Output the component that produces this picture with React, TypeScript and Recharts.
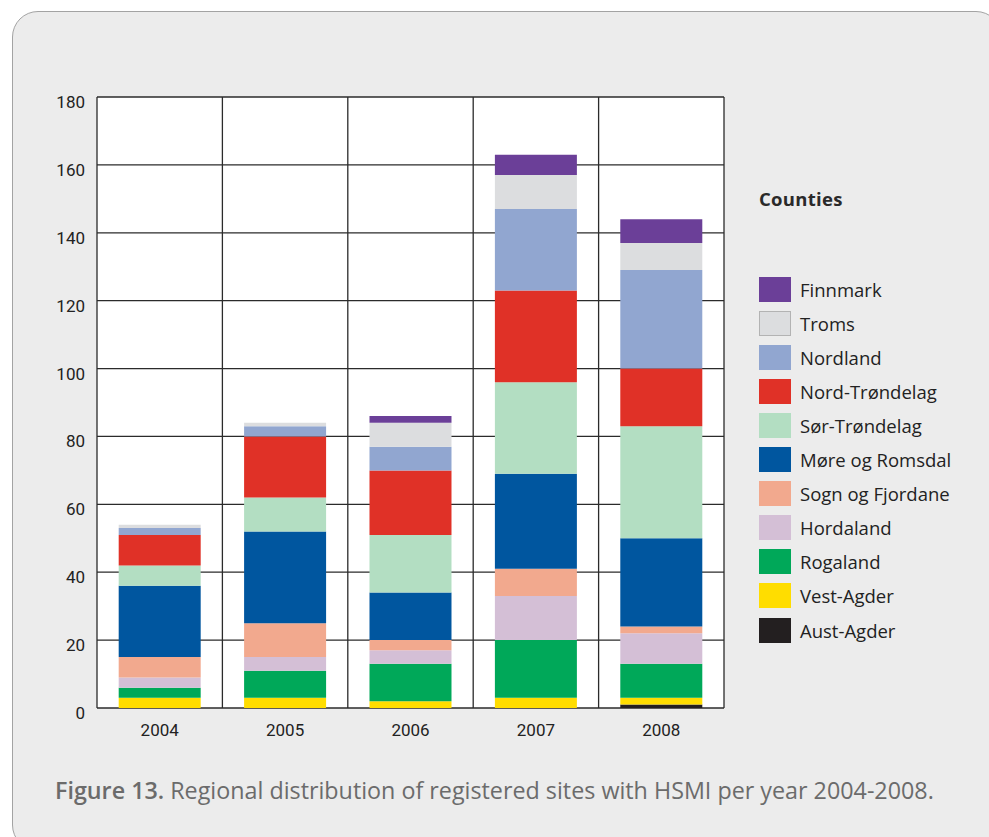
import React from "react";
import { BarChart, Bar, XAxis, YAxis, CartesianGrid } from "recharts";

// Years on the category axis
const years = ["2004", "2005", "2006", "2007", "2008"];

// Registered HSMI sites per county and year (stacked bottom → top)
const austAgder = [0, 0, 0, 0, 1];
const vestAgder = [3, 3, 2, 3, 2];
const rogaland = [3, 8, 11, 17, 10];
const hordaland = [3, 4, 4, 13, 9];
const sognOgFjordane = [6, 10, 3, 8, 2];
const moreOgRomsdal = [21, 27, 14, 28, 26];
const sorTrondelag = [6, 10, 17, 27, 33];
const nordTrondelag = [9, 18, 19, 27, 17];
const nordland = [2, 3, 7, 24, 29];
const troms = [1, 1, 7, 10, 8];
const finnmark = [0, 0, 2, 6, 7];

const yTicks = [0, 20, 40, 60, 80, 100, 120, 140, 160, 180];

const series = [
  { key: "Aust-Agder", values: austAgder, color: "#231f20" },
  { key: "Vest-Agder", values: vestAgder, color: "#ffdd00" },
  { key: "Rogaland", values: rogaland, color: "#00a859" },
  { key: "Hordaland", values: hordaland, color: "#d4bfd6" },
  { key: "Sogn og Fjordane", values: sognOgFjordane, color: "#f2a98e" },
  { key: "Møre og Romsdal", values: moreOgRomsdal, color: "#00569f" },
  { key: "Sør-Trøndelag", values: sorTrondelag, color: "#b3dec2" },
  { key: "Nord-Trøndelag", values: nordTrondelag, color: "#e03127" },
  { key: "Nordland", values: nordland, color: "#91a6d0" },
  { key: "Troms", values: troms, color: "#dcdddf" },
  { key: "Finnmark", values: finnmark, color: "#6b3f98" },
];

const data = years.map((year, i) => {
  const row: Record<string, string | number> = { year };
  series.forEach((s) => {
    row[s.key] = s.values[i];
  });
  return row;
});

const tickFont = { fontFamily: "Roboto, 'Liberation Sans', sans-serif", fontSize: 17, fill: "#222" };
const textFont = "'Open Sans', 'Noto Sans', sans-serif";

// Vertical grid lines sit on the category boundaries, not the centres
const boundaryLines = ({ offset }: any) =>
  years.map((_, i) => offset.left + (i * offset.width) / years.length).concat(offset.left + offset.width);

export default function App() {
  return (
    <div style={{ position: "absolute", left: 0, top: 0, width: 989, height: 837, background: "#ffffff", overflow: "hidden" }}>
      <div
        style={{
          position: "absolute",
          left: 12,
          top: 11,
          width: 990,
          height: 840,
          background: "#ececec",
          border: "1.5px solid #a3a3a3",
          borderRadius: 26,
          boxSizing: "border-box",
        }}
      />
      <div style={{ position: "absolute", left: 0, top: 0 }}>
        <BarChart
          width={989}
          height={837}
          data={data}
          margin={{ top: 97, right: 265, bottom: 99, left: 0 }}
          barCategoryGap="17.3%"
        >
          <CartesianGrid
            fill="#ffffff"
            stroke="#2b2b2b"
            strokeWidth={1.3}
            verticalCoordinatesGenerator={boundaryLines}
          />
          <XAxis
            dataKey="year"
            height={30}
            tickLine={false}
            axisLine={false}
            tick={tickFont}
            tickMargin={16}
            tickSize={0}
          />
          <YAxis
            width={97}
            domain={[0, 180]}
            ticks={yTicks}
            interval={0}
            tickLine={false}
            axisLine={false}
            tickSize={0}
            tickMargin={12}
            tick={{ ...tickFont, dy: 5 }}
          />
          {series.map((s) => (
            <Bar key={s.key} dataKey={s.key} stackId="sites" fill={s.color} isAnimationActive={false} />
          ))}
        </BarChart>
      </div>

      {/* Legend */}
      <div
        style={{
          position: "absolute",
          left: 759,
          top: 186,
          fontFamily: textFont,
          fontWeight: 700,
          fontSize: 18.5,
          color: "#2a2a2a",
          letterSpacing: 0.3,
        }}
      >
        Counties
      </div>
      {series
        .slice()
        .reverse()
        .map((s, i) => (
          <div
            key={s.key}
            style={{ position: "absolute", left: 759, top: 276 + i * 34.1, display: "flex", alignItems: "center", height: 26 }}
          >
            <div
              style={{
                width: 32,
                height: 25,
                background: s.color,
                boxSizing: "border-box",
                border: s.key === "Troms" ? "1px solid #b3b3b3" : "none",
              }}
            />
            <span style={{ marginLeft: 9, fontFamily: textFont, fontSize: 18.5, color: "#222" }}>{s.key}</span>
          </div>
        ))}

      {/* Caption */}
      <div
        style={{
          position: "absolute",
          left: 55,
          top: 774,
          fontFamily: textFont,
          fontSize: 23.3,
          color: "#6b6b6b",
          whiteSpace: "nowrap",
        }}
      >
        <span style={{ fontWeight: 600 }}>Figure 13.</span> Regional distribution of registered sites with HSMI per year 2004-2008.
      </div>
    </div>
  );
}
